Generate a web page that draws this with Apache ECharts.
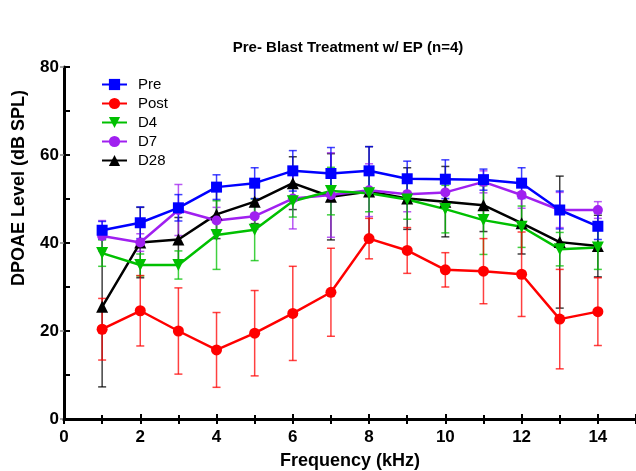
<!DOCTYPE html>
<html>
<head>
<meta charset="utf-8">
<script src="https://cdn.jsdelivr.net/npm/echarts@6/dist/echarts.min.js"></script>
<style>html,body{margin:0;padding:0;background:#fff;}#c{width:636px;height:471px;}</style>
</head>
<body>
<div id="c"></div>
<script>
const freq = [1, 2, 3, 4, 5, 6, 7, 8, 9, 10, 11, 12, 13, 14];
const pre = [42.9, 44.6, 48.0, 52.7, 53.6, 56.4, 55.8, 56.4, 54.6, 54.5, 54.4, 53.6, 47.5, 43.8];
const preSd = [2.0, 3.6, 3.0, 2.8, 3.5, 4.6, 5.9, 5.5, 4.0, 4.4, 2.4, 3.5, 4.3, 3.0];
const post = [20.4, 24.6, 20.0, 15.7, 19.5, 24.0, 28.8, 41.0, 38.3, 33.9, 33.6, 32.9, 22.7, 24.4];
const postSd = [7.0, 8.0, 9.8, 8.5, 9.7, 10.7, 10.0, 4.6, 5.2, 3.9, 7.4, 9.6, 11.3, 7.7];
const d4 = [37.7, 35.0, 35.0, 41.8, 43.0, 49.5, 51.8, 51.3, 49.9, 47.7, 45.2, 43.7, 38.6, 39.0];
const d4Sd = [3.0, 2.5, 3.2, 7.8, 7.0, 3.6, 5.4, 4.2, 4.5, 5.4, 7.8, 4.7, 3.8, 5.0];
const d7 = [41.6, 40.1, 47.5, 45.1, 46.1, 50.1, 50.9, 52.0, 51.1, 51.5, 53.9, 50.9, 47.5, 47.5];
const d7Sd = [3.5, 2.0, 5.8, 3.0, 3.0, 6.9, 9.6, 6.0, 4.0, 3.0, 2.5, 3.0, 4.0, 1.9];
const d28 = [25.5, 40.1, 40.8, 46.5, 49.4, 53.6, 50.5, 51.7, 50.1, 49.4, 48.6, 44.5, 40.2, 39.3];
const d28Sd = [18.2, 8.0, 5.0, 5.5, 5.0, 6.0, 9.8, 10.2, 7.0, 8.0, 6.0, 7.0, 15.0, 7.0];
const xTicks = [0, 2, 4, 6, 8, 10, 12, 14];
const yTicks = [0, 20, 40, 60, 80];

const FONT = 'Arial, "Liberation Sans", sans-serif';
const groups = [
  {name: 'D28', vals: d28, sd: d28Sd, color: '#000000', symbol: 'triangle', size: 12, rotate: 0},
  {name: 'D7', vals: d7, sd: d7Sd, color: '#A020F0', symbol: 'circle', size: 10, rotate: 0},
  {name: 'D4', vals: d4, sd: d4Sd, color: '#00C000', symbol: 'triangle', size: 12, rotate: 180},
  {name: 'Post', vals: post, sd: postSd, color: '#FF0000', symbol: 'circle', size: 11, rotate: 0},
  {name: 'Pre', vals: pre, sd: preSd, color: '#0000FF', symbol: 'rect', size: 11, rotate: 0}
];

const series = [];
groups.forEach(g => {
  series.push({
    name: g.name + ' err',
    type: 'custom',
    xAxisIndex: 0, yAxisIndex: 0,
    z: 2,
    silent: true,
    data: freq.map((f, i) => [f, g.vals[i], g.sd[i]]),
    encode: {x: 0, y: 1},
    renderItem: function (params, api) {
      const x = api.value(0), y = api.value(1), s = api.value(2);
      const top = api.coord([x, y + s]);
      const bot = api.coord([x, y - s]);
      const hw = 4;
      const st = {stroke: g.color, lineWidth: 1.5, opacity: 0.75};
      return {type: 'group', children: [
        {type: 'line', shape: {x1: top[0], y1: top[1], x2: bot[0], y2: bot[1]}, style: st},
        {type: 'line', shape: {x1: top[0] - hw, y1: top[1], x2: top[0] + hw, y2: top[1]}, style: st},
        {type: 'line', shape: {x1: bot[0] - hw, y1: bot[1], x2: bot[0] + hw, y2: bot[1]}, style: st}
      ]};
    }
  });
});
groups.forEach(g => {
  series.push({
    name: g.name,
    type: 'line',
    xAxisIndex: 0, yAxisIndex: 0,
    z: 3,
    data: freq.map((f, i) => [f, g.vals[i]]),
    symbol: g.symbol,
    symbolSize: g.size,
    symbolRotate: g.rotate,
    showAllSymbol: true,
    lineStyle: {color: g.color, width: 2.5},
    itemStyle: {color: g.color},
    emphasis: {disabled: true},
    animation: false
  });
});

const chart = echarts.init(document.getElementById('c'), null, {renderer: 'canvas'});
chart.setOption({
  animation: false,
  backgroundColor: '#ffffff',
  title: {
    text: 'Pre- Blast Treatment w/ EP (n=4)',
    left: 343, top: 35, textAlign: 'center',
    textStyle: {fontFamily: FONT, fontWeight: 'bold', fontSize: 15, color: '#000'}
  },
  graphic: [{
    type: 'text', left: 10, top: 90, rotation: Math.PI / 2,
    style: {text: 'DPOAE Level (dB SPL)', font: 'bold 18px ' + FONT, fill: '#000'}
  }],
  legend: {
    data: ['Pre', 'Post', 'D4', 'D7', 'D28'],
    orient: 'vertical',
    left: 96, top: 72,
    itemWidth: 25, itemHeight: 14, itemGap: 4,
    selectedMode: false,
    textStyle: {fontFamily: FONT, fontSize: 15, color: '#000', padding: [0, 0, 0, 6]}
  },
  grid: {left: 64, right: 0, top: 67, bottom: 52, containLabel: false, outerBoundsMode: 'none'},
  xAxis: [{
    type: 'value', min: 0, max: 15, interval: 2, position: 'bottom',
    axisLine: {show: true, lineStyle: {color: '#000', width: 3}},
    axisTick: {show: true, inside: true, length: 5, lineStyle: {color: '#000', width: 2}},
    minorTick: {show: true, splitNumber: 2, length: 4, lineStyle: {color: '#000', width: 2}},
    splitLine: {show: false},
    axisLabel: {
      fontFamily: FONT, fontWeight: 'bold', fontSize: 17, color: '#000', margin: 10,
      showMaxLabel: false,
      formatter: v => xTicks.indexOf(v) >= 0 ? String(v) : ''
    },
    name: 'Frequency (kHz)', nameLocation: 'middle', nameGap: 33,
    nameTextStyle: {fontFamily: FONT, fontWeight: 'bold', fontSize: 18, color: '#000'}
  }, {
    type: 'value', min: 0, max: 15, interval: 1, position: 'top',
    axisLine: {show: true, lineStyle: {color: '#000', width: 3}},
    axisTick: {show: true, inside: true, length: 5, lineStyle: {color: '#000', width: 2}},
    axisLabel: {show: false},
    splitLine: {show: false}
  }],
  yAxis: [{
    type: 'value', min: 0, max: 80, interval: 20,
    axisLine: {show: true, lineStyle: {color: '#000', width: 3}},
    axisTick: {show: true, inside: true, length: 6, lineStyle: {color: '#000', width: 2}},
    minorTick: {show: true, splitNumber: 2, length: 6, lineStyle: {color: '#000', width: 2}},
    splitLine: {show: false},
    axisLabel: {
      fontFamily: FONT, fontWeight: 'bold', fontSize: 17, color: '#000', margin: 5,
      formatter: v => yTicks.indexOf(v) >= 0 ? String(v) : ''
    }
  }, {
    type: 'value', min: 0, max: 80, interval: 20, position: 'right',
    axisLine: {show: false},
    axisTick: {show: true, inside: true, length: 4, lineStyle: {color: '#888', width: 1.5}},
    axisLabel: {show: false},
    splitLine: {show: false}
  }],
  series: series
});
</script>
</body>
</html>
